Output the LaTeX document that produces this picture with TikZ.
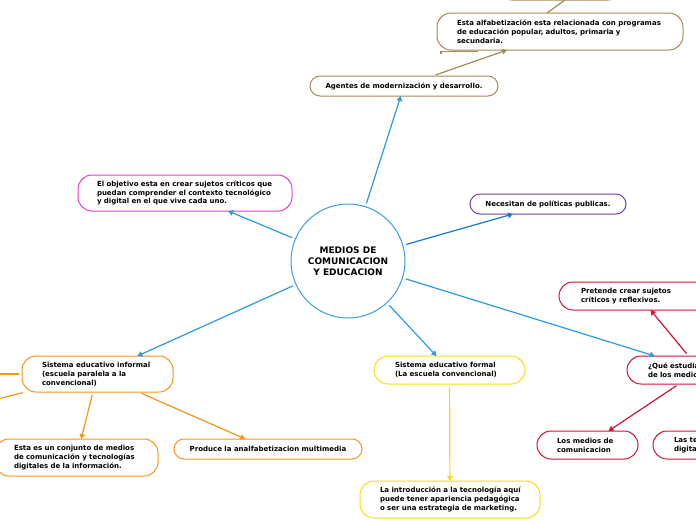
\documentclass[tikz,border=0pt]{standalone}
\usepackage{fontspec}
\setmainfont{DejaVu Sans}
\usetikzlibrary{arrows.meta,calc}
\definecolor{brn}{HTML}{A38B5A}
\definecolor{mag}{HTML}{E040C8}
\definecolor{pur}{HTML}{7A3EA0}
\definecolor{cblue}{HTML}{3A9EE0}
\definecolor{lblue}{HTML}{2E9BE0}
\definecolor{dblue}{HTML}{1A78C2}
\definecolor{crd}{HTML}{CF1438}
\definecolor{yel}{HTML}{F7DC10}
\definecolor{org}{HTML}{F7941E}
\newcommand{\nb}[1]{\mbox{#1}}
\begin{document}
\begin{tikzpicture}[x=1pt,y=-1pt,
  every node/.style={font=\bfseries\fontsize{7}{8.8}\selectfont, text=black},
  bx/.style={draw=#1, line width=1pt, fill=white, inner ysep=0pt, outer sep=0pt},
  rnd/.style={rounded corners=10pt},
  rndb/.style={rounded corners=14pt},
  con/.style={draw=#1, line width=1.2pt, shorten <=3pt, -{Triangle[length=5pt,width=5.5pt]}},
  lin/.style={draw=#1, line width=1.2pt, shorten <=3pt}]
\useasboundingbox (0,0) rectangle (696,520);
\clip (0,0) rectangle (696,520);
\fill[white] (0,0) rectangle (696,520);

% nodes
\node[bx=brn, rndb, minimum height=30pt, minimum width=124pt] (topbox) at (560,-15) {};
\node[bx=brn, rndb, minimum height=37pt, text width=206pt, inner xsep=20pt, align=left] (alfab) at (560,31.5)
  {\nb{Esta alfabetización esta relacionada con programas}\\\nb{de educación popular, adultos, primaria y}\\secundaria.};
\node[bx=brn, rnd, minimum height=20pt, minimum width=188pt, align=center] (agentes) at (404,86)
  {Agentes de modernización y desarrollo.};
\node[bx=mag, rndb, minimum height=36pt, text width=176pt, inner xsep=19pt, align=left] (objetivo) at (185,193)
  {\nb{El objetivo esta en crear sujetos críticos que}\\\nb{puedan comprender el contexto tecnológico}\\\nb{y digital en el que vive cada uno.}};
\node[circle, draw=cblue, line width=1pt, fill=white, minimum size=114pt, inner sep=0pt, align=center,
  font=\bfseries\fontsize{9}{11}\selectfont] (center) at (348,261)
  {MEDIOS DE\\COMUNICACION\\Y EDUCACION};
\node[bx=pur, rnd, minimum height=20pt, minimum width=156pt, align=center] (necesitan) at (548,204)
  {Necesitan de políticas publicas.};
\node[bx=crd, rndb, minimum height=28pt, text width=116pt, inner xsep=22pt, align=left] (pretende) at (639,296)
  {\nb{Pretende crear sujetos}\\\nb{críticos y reflexivos.}};
\node[bx=crd, rndb, minimum height=28pt, text width=104pt, inner xsep=21pt, align=left] (que) at (700,370)
  {\nb{¿Qué estudia la educación}\\\nb{de los medios?}};
\node[bx=crd, rndb, minimum height=28pt, text width=61pt, inner xsep=20pt, align=left] (losmedios) at (587.5,445)
  {\nb{Los medios de}\\\nb{comunicacion}};
\node[bx=crd, rndb, minimum height=28pt, text width=78pt, inner xsep=21pt, align=left] (laste) at (713,445)
  {\nb{Las tecnologías}\\\nb{digitales}};
\node[bx=yel, rndb, minimum height=28pt, text width=109pt, inner xsep=21pt, align=left] (formal) at (449.5,370)
  {\nb{Sistema educativo formal}\\\nb{(La escuela convencional)}};
\node[bx=yel, rndb, minimum height=37pt, text width=140pt, inner xsep=20pt, align=left] (intro) at (450,499.5)
  {\nb{La introducción a la tecnología aquí}\\\nb{puede tener apariencia pedagógica}\\\nb{o ser una estrategia de marketing.}};
\node[bx=org, rndb, minimum height=36pt, text width=111pt, inner xsep=20pt, align=left] (informal) at (97.5,374)
  {\nb{Sistema educativo informal}\\\nb{(escuela paralela a la}\\\nb{convencional)}};
\node[bx=org, rndb, minimum height=37pt, text width=125pt, inner xsep=19pt, align=left] (conjunto) at (76.5,457.5)
  {\nb{Esta es un conjunto de medios}\\\nb{de comunicación y tecnologías}\\\nb{digitales de la información.}};
\node[bx=org, rnd, minimum height=20pt, minimum width=188pt, align=center] (produce) at (268,449)
  {Produce la analfabetizacion multimedia};

\coordinate (offA) at (-80,374);
\coordinate (offB) at (-150,436);
\coordinate (stub) at (441,54);

% connectors
\draw[con=lblue] (center) -- (agentes);
\draw[con=lblue] (center) -- (objetivo);
\draw[con=dblue] (center) -- (necesitan);
\draw[con=lblue] (center) -- (que);
\draw[con=lblue] (center) -- (formal);
\draw[con=lblue] (center) -- (informal);
\draw[con=brn] (agentes) -- (alfab);
\draw[lin=brn, shorten <=0pt] ($(alfab.north west)!0.447!(alfab.north east)$) -- ($(topbox.south west)!0.54!(topbox.south east)$);
\draw[draw=brn, line width=1.2pt] (stub) |- ($(alfab.south west)+(41,1.8)$);
\draw[con=crd] (que) -- (pretende);
\draw[con=crd] (que) -- (losmedios);
\draw[con=yel] (formal) -- (intro);
\draw[con=org] (informal) -- (conjunto);
\draw[con=org] (informal) -- (produce);
\draw[lin=org] (informal) -- (offA);
\draw[lin=org] (informal) -- (offB);
\end{tikzpicture}
\end{document}
